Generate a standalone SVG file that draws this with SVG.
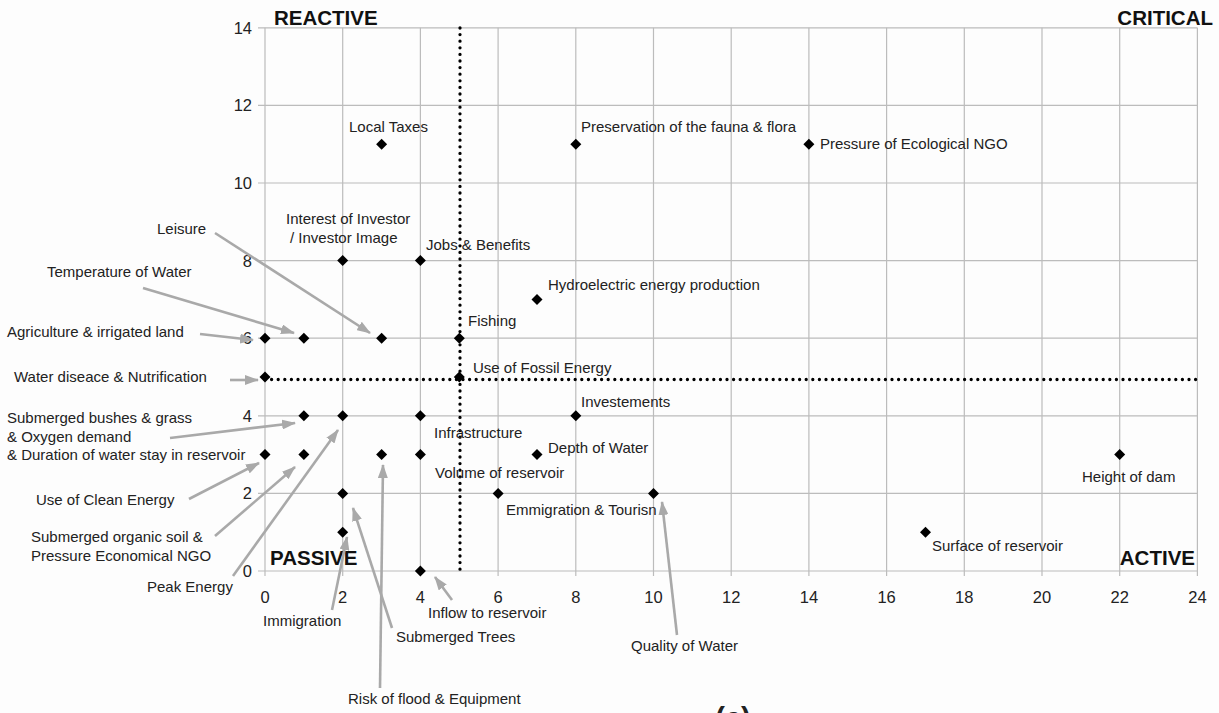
<svg xmlns="http://www.w3.org/2000/svg" width="1219" height="713" viewBox="0 0 1219 713">
<style>
.grid{stroke:#bcbcbc;stroke-width:1.2;fill:none}
.dotl{stroke:#000;stroke-width:3.3;stroke-linecap:round;stroke-dasharray:0 6.6;fill:none}
text{font-family:"Liberation Sans",Arial,sans-serif;fill:#222}
.lbl{font-size:15px}
.tk{font-size:16.5px;fill:#222}
.quad{font-size:20.5px;font-weight:bold;fill:#111}
.arr{stroke:#a9a9a9;stroke-width:2.6;fill:none;marker-end:url(#ah)}
.dm{fill:#000}
</style>
<defs>
<marker id="ah" viewBox="0 0 14 10" refX="13" refY="5" markerWidth="14" markerHeight="10" markerUnits="userSpaceOnUse" orient="auto"><path d="M0,0 L14,5 L0,10 z" fill="#a9a9a9"/></marker>
<path id="d" class="dm" d="M0,-5.5 L5.5,0 L0,5.5 L-5.5,0 Z"/>
</defs>
<rect width="1219" height="713" fill="#fdfdfd"/>
<g id="grid">
<path class="grid" d="M265,27.8V576 M342.7,27.8V576 M420.4,27.8V576 M498.1,27.8V576 M575.8,27.8V576 M653.5,27.8V576 M731.2,27.8V576 M808.9,27.8V576 M886.6,27.8V576 M964.3,27.8V576 M1042,27.8V576 M1119.7,27.8V576 M1197.4,27.8V576"/>
<path class="grid" d="M258,571H1197.4 M258,493.4H1197.4 M258,415.8H1197.4 M258,338.2H1197.4 M258,260.6H1197.4 M258,183H1197.4 M258,105.4H1197.4 M258,27.8H1197.4"/>
</g>
<g id="axes">
<text class="tk" x="252" y="577" text-anchor="end">0</text>
<text class="tk" x="252" y="499.4" text-anchor="end">2</text>
<text class="tk" x="252" y="421.8" text-anchor="end">4</text>
<text class="tk" x="252" y="344.2" text-anchor="end">6</text>
<text class="tk" x="252" y="266.6" text-anchor="end">8</text>
<text class="tk" x="252" y="189" text-anchor="end">10</text>
<text class="tk" x="252" y="111.4" text-anchor="end">12</text>
<text class="tk" x="252" y="33.8" text-anchor="end">14</text>
<text class="tk" x="265" y="603" text-anchor="middle">0</text>
<text class="tk" x="342.7" y="603" text-anchor="middle">2</text>
<text class="tk" x="420.4" y="603" text-anchor="middle">4</text>
<text class="tk" x="498.1" y="603" text-anchor="middle">6</text>
<text class="tk" x="575.8" y="603" text-anchor="middle">8</text>
<text class="tk" x="653.5" y="603" text-anchor="middle">10</text>
<text class="tk" x="731.2" y="603" text-anchor="middle">12</text>
<text class="tk" x="808.9" y="603" text-anchor="middle">14</text>
<text class="tk" x="886.6" y="603" text-anchor="middle">16</text>
<text class="tk" x="964.3" y="603" text-anchor="middle">18</text>
<text class="tk" x="1042" y="603" text-anchor="middle">20</text>
<text class="tk" x="1119.7" y="603" text-anchor="middle">22</text>
<text class="tk" x="1197.4" y="603" text-anchor="middle">24</text>
</g>
<g id="dividers">
<path class="dotl" d="M460,28V571"/>
<path class="dotl" d="M265,379.5H1197"/>
</g>
<g id="quadrants">
<text class="quad" x="274" y="25">REACTIVE</text>
<text class="quad" x="1213" y="25" text-anchor="end">CRITICAL</text>
<text class="quad" x="270" y="565">PASSIVE</text>
<text class="quad" x="1195" y="565" text-anchor="end">ACTIVE</text>
</g>
<g id="connectors">
<path class="arr" d="M215,233L370,333"/>
<path class="arr" d="M143,288L294,333"/>
<path class="arr" d="M200,334L253,340"/>
<path class="arr" d="M230,380L258,380"/>
<path class="arr" d="M170,438L295,423"/>
<path class="arr" d="M189,499L259,463"/>
<path class="arr" d="M215,536L295,467"/>
<path class="arr" d="M233,576L338,430"/>
<path class="arr" d="M380,688L383,465"/>
<path class="arr" d="M392,628L353,508"/>
<path class="arr" d="M332,610L347,537"/>
<path class="arr" d="M452,600L435,577"/>
<path class="arr" d="M677,635L662,502"/>
</g>
<g id="n-local-taxes"><use href="#d" x="381.6" y="144.2"/><text class="lbl" x="349" y="132">Local Taxes</text></g>
<g id="n-preservation"><use href="#d" x="575.8" y="144.2"/><text class="lbl" x="581" y="132">Preservation of the fauna &amp; flora</text></g>
<g id="n-pressure-eco-ngo"><use href="#d" x="808.9" y="144.2"/><text class="lbl" x="820" y="149">Pressure of Ecological NGO</text></g>
<g id="n-investor"><use href="#d" x="342.7" y="260.6"/><text class="lbl" x="286" y="224">Interest of Investor</text><text class="lbl" x="290" y="243">/ Investor Image</text></g>
<g id="n-jobs"><use href="#d" x="420.4" y="260.6"/><text class="lbl" x="426" y="250">Jobs &amp; Benefits</text></g>
<g id="n-hydro"><use href="#d" x="537" y="299.4"/><text class="lbl" x="548" y="290">Hydroelectric energy production</text></g>
<g id="n-agriculture"><use href="#d" x="265" y="338.2"/><text class="lbl" x="7" y="336.5">Agriculture &amp; irrigated land</text></g>
<g id="n-temperature"><use href="#d" x="303.9" y="338.2"/><text class="lbl" x="47" y="277">Temperature of Water</text></g>
<g id="n-leisure"><use href="#d" x="381.6" y="338.2"/><text class="lbl" x="157" y="234">Leisure</text></g>
<g id="n-fishing"><use href="#d" x="459.3" y="338.2"/><text class="lbl" x="468" y="326">Fishing</text></g>
<g id="n-water-disease"><use href="#d" x="265" y="377"/><text class="lbl" x="14" y="381.5">Water diseace &amp; Nutrification</text></g>
<g id="n-fossil"><use href="#d" x="459.3" y="377"/><text class="lbl" x="473" y="373">Use of Fossil Energy</text></g>
<g id="n-submerged-bushes"><use href="#d" x="303.9" y="415.8"/><text class="lbl" x="7" y="422.5">Submerged bushes &amp; grass</text><text class="lbl" x="7" y="441.5">&amp; Oxygen demand</text><text class="lbl" x="7" y="460">&amp; Duration of water stay in reservoir</text></g>
<g id="n-peak-energy"><use href="#d" x="342.7" y="415.8"/><text class="lbl" x="147" y="591.5">Peak Energy</text></g>
<g id="n-infrastructure"><use href="#d" x="420.4" y="415.8"/><text class="lbl" x="434" y="438">Infrastructure</text></g>
<g id="n-investements"><use href="#d" x="575.8" y="415.8"/><text class="lbl" x="581" y="407">Investements</text></g>
<g id="n-clean-energy"><use href="#d" x="265" y="454.6"/><text class="lbl" x="36" y="504.5">Use of Clean Energy</text></g>
<g id="n-organic-soil"><use href="#d" x="303.9" y="454.6"/><text class="lbl" x="31" y="541.5">Submerged organic soil &amp;</text><text class="lbl" x="31" y="560.5">Pressure Economical NGO</text></g>
<g id="n-risk-flood"><use href="#d" x="381.6" y="454.6"/><text class="lbl" x="348" y="704">Risk of flood &amp; Equipment</text></g>
<g id="n-volume"><use href="#d" x="420.4" y="454.6"/><text class="lbl" x="435" y="478">Volume of reservoir</text></g>
<g id="n-depth"><use href="#d" x="537" y="454.6"/><text class="lbl" x="548" y="453">Depth of Water</text></g>
<g id="n-height-dam"><use href="#d" x="1119.7" y="454.6"/><text class="lbl" x="1082" y="482">Height of dam</text></g>
<g id="n-submerged-trees"><use href="#d" x="342.7" y="493.4"/><text class="lbl" x="396" y="642">Submerged Trees</text></g>
<g id="n-emmigration"><use href="#d" x="498.1" y="493.4"/><text class="lbl" x="506" y="515">Emmigration &amp; Tourisn</text></g>
<g id="n-quality"><use href="#d" x="653.5" y="493.4"/><text class="lbl" x="631" y="651">Quality of Water</text></g>
<g id="n-immigration"><use href="#d" x="342.7" y="532.2"/><text class="lbl" x="263" y="626">Immigration</text></g>
<g id="n-surface"><use href="#d" x="925.5" y="532.2"/><text class="lbl" x="932" y="551">Surface of reservoir</text></g>
<g id="n-inflow"><use href="#d" x="420.4" y="571"/><text class="lbl" x="428" y="618">Inflow to reservoir</text></g>
<g id="caption"><text x="733" y="728" text-anchor="middle" font-size="29" font-weight="bold" fill="#111">(c)</text></g>
</svg>
